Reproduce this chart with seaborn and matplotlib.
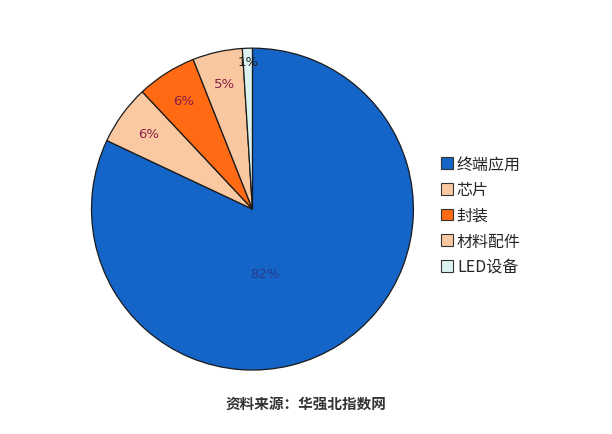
import matplotlib
matplotlib.use('Agg')
import matplotlib.pyplot as plt
import seaborn as sns
import numpy as np
from matplotlib.patches import Patch

# data
categories = ['终端应用', '芯片', '封装', '材料配件', 'LED设备']
shares = [82, 6, 6, 5, 1]
colors = ['#1565C8', '#FAC9A2', '#FF6A12', '#F9C8A0', '#DDF3F2']
label_colors = ['#2a3a8c', '#8b1f45', '#8b1f45', '#8b1f45', '#222222']
source_note = '资料来源：华强北指数网'

sns.set_theme(style='white')
plt.rcParams['font.family'] = ['Noto Sans CJK SC', 'DejaVu Sans']

fig = plt.figure(figsize=(6.12, 4.35), dpi=100)
ax = fig.add_axes([0.1495, 0.147, 0.526, 0.740])

wedges, texts, autotexts = ax.pie(
    shares, colors=colors, startangle=90, counterclock=False,
    autopct='%d%%', pctdistance=0.8,
    wedgeprops=dict(edgecolor='#1a1a1a', linewidth=0.9),
    textprops=dict(fontsize=9.5, family=['DejaVu Sans']))
ax.set_xlim(-1.0, 1.0)
ax.set_ylim(-1.0, 1.0)
ax.set_aspect('equal')

# Excel-like label positions: big slice label toward the bottom, tiny one near rim
for w, t, c in zip(wedges, autotexts, label_colors):
    t.set_color(c)
mid = np.deg2rad(-79)
autotexts[0].set_position((0.41 * np.cos(mid), 0.41 * np.sin(mid)))
w = wedges[4]
ang = np.deg2rad((w.theta1 + w.theta2) / 2)
autotexts[4].set_position((0.92 * np.cos(ang), 0.92 * np.sin(ang)))

handles = [Patch(facecolor=c, edgecolor='#333333', linewidth=0.8) for c in colors]
fig.legend(handles, categories, loc='upper left', bbox_to_anchor=(0.71, 0.655),
           frameon=False, fontsize=11.5, handlelength=0.75, handleheight=0.75,
           handletextpad=0.25, labelspacing=0.55, borderaxespad=0)

fig.text(0.5, 0.071, source_note, ha='center', va='center', fontsize=10.5,
         color='#333333', fontweight='bold')

plt.savefig('out.png', dpi=100)
plt.close()
